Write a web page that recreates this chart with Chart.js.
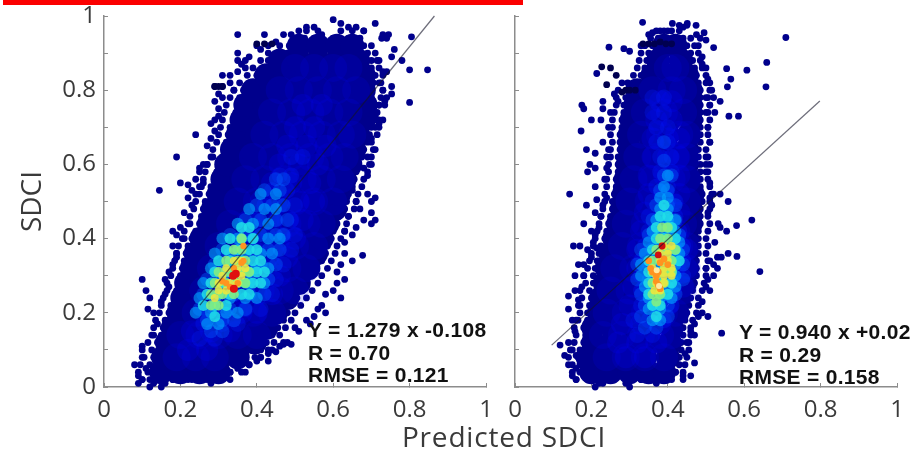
<!DOCTYPE html>
<html>
<head>
<meta charset="utf-8">
<script src="https://cdn.jsdelivr.net/npm/chart.js@4/dist/chart.umd.min.js"></script>
<style>
	html, body { margin: 0; padding: 0; background: #fff; width: 916px; height: 452px; overflow: hidden; }
	canvas { position: absolute; top: 0; filter: blur(0.6px); }
	#leftChart { left: 0; }
	#rightChart { left: 500px; }
	#redBar { position: absolute; left: 3px; top: 0; width: 520px; height: 5px; background: #fb0000; }
	#xTitle { position: absolute; left: 399px; top: 417px; width: 210px; text-align: center; font: 28px "Open Sans", sans-serif; letter-spacing: 0.8px; color: #3a3a3a; white-space: nowrap; }
	.stats { position: absolute; font: bold 21px "Liberation Sans", Arial, sans-serif; line-height: 22.5px; color: #111; white-space: nowrap; letter-spacing: 0.3px; }
</style>
</head>
<body>
<div id="redBar"></div>
<canvas id="leftChart" width="500" height="452"></canvas>
<canvas id="rightChart" width="416" height="452"></canvas>
<div id="xTitle">Predicted SDCI</div>
<div class="stats" style="left:308px; top:319px;">Y = 1.279 x -0.108<br>R = 0.70<br>RMSE = 0.121</div>
<div class="stats" style="left:739px; top:321px;">Y = 0.940 x +0.02<br>R = 0.29<br>RMSE = 0.158</div>
<script>
// tick labels
var yTickLabels = {0: "0", 2: "0.2", 4: "0.4", 6: "0.6", 8: "0.8", 10: "1"};

// fit lines
var leftFit = [[.251,.221],[.865,1]];
var rightFit = [[.096,.113],[.798,.771]];

// density layers are written as rows: first value is y, the others are x values in that row
var leftNavy = [
	[.04,.15,.20,.25,.30],[.08,.155,.205,.255,.305,.35],[.12,.165,.215,.265,.315,.365,.395],[.16,.18,.23,.28,.33,.38,.425],
	[.20,.195,.245,.295,.345,.395,.45],[.24,.205,.255,.305,.355,.405,.455,.48],[.28,.215,.265,.315,.365,.415,.465,.51],
	[.32,.23,.28,.33,.38,.43,.48,.51,.535],[.36,.24,.29,.34,.39,.44,.49,.525,.555],[.40,.255,.305,.355,.405,.455,.505,.54,.57],
	[.44,.275,.325,.375,.425,.475,.525,.555,.585],[.48,.285,.335,.385,.435,.485,.535,.57,.605],[.52,.30,.35,.40,.45,.50,.55,.58,.615],
	[.56,.31,.36,.41,.46,.51,.56,.595,.63],[.60,.32,.37,.42,.47,.52,.57,.61,.645],[.64,.335,.385,.435,.485,.535,.585,.62,.655],
	[.68,.35,.40,.45,.50,.55,.60,.635,.665],[.72,.36,.41,.46,.51,.56,.61,.645,.68],[.76,.37,.42,.47,.52,.57,.62,.65,.685],
	[.80,.39,.44,.49,.54,.59,.64,.68],[.84,.425,.475,.525,.575,.625,.68],[.88,.46,.51,.56,.61,.665],[.92,.51,.56,.61,.65]
];
// outer band of single dots
var leftBand = [
	[.02,.10,.12,.15,.18,.22,.26,.30,.33],[.04,.09,.115,.14,.33,.36],[.06,.095,.12,.145,.35,.38],[.08,.105,.13,.37,.395,.41],[.10,.10,.125,.385,.41,.43],
	[.12,.115,.14,.40,.425,.445],[.14,.125,.15,.41,.44,.46],[.16,.13,.155,.43,.455,.475],[.18,.135,.16,.44,.47,.49],[.20,.145,.17,.455,.48,.50],
	[.22,.15,.175,.47,.49,.515],[.24,.155,.185,.48,.505,.53],[.26,.165,.19,.49,.52,.545],[.28,.165,.195,.505,.53,.56],[.30,.175,.20,.52,.545,.57],
	[.32,.18,.205,.53,.555,.585],[.34,.185,.21,.54,.57,.595],[.36,.19,.215,.55,.58,.605],[.38,.195,.22,.56,.585,.61],[.40,.205,.23,.57,.595,.62],
	[.42,.21,.24,.58,.60,.63],[.44,.225,.25,.585,.61,.635],[.46,.225,.255,.59,.615,.64],[.48,.235,.26,.60,.63,.655],[.50,.24,.265,.61,.635,.66],
	[.52,.25,.275,.61,.64,.665],[.54,.255,.28,.62,.65,.675],[.56,.26,.29,.63,.655,.68],[.58,.265,.295,.635,.66,.69],[.60,.27,.30,.64,.665,.695],
	[.62,.285,.31,.65,.675,.70],[.64,.285,.315,.655,.68,.705],[.66,.295,.32,.66,.69,.70],[.68,.30,.325,.67,.695,.715],[.70,.305,.33,.68,.70,.72],
	[.72,.31,.34,.685,.71,.73],[.74,.315,.345,.69,.715],[.76,.32,.35,.695,.72,.735],[.78,.33,.355,.70,.725],[.80,.34,.365,.70,.73],
	[.82,.355,.38,.705,.725],[.84,.375,.40,.71,.73],[.86,.39,.415,.70,.72],[.88,.41,.43,.70,.715],[.90,.43,.455,.48,.69,.71],
	[.92,.46,.485,.51,.68,.70],[.94,.50,.525,.55,.60,.64,.67],[.96,.53,.56,.62,.65,.68]
];
var leftBlue1 = [
	[.08,.19,.24,.29],[.14,.2,.25,.30,.35,.40],[.20,.24,.29,.34,.39,.44],[.26,.26,.31,.36,.41,.46,.50],[.32,.28,.33,.38,.43,.48,.53],
	[.38,.30,.35,.40,.45,.50,.55],[.44,.33,.38,.43,.48,.53,.57],[.50,.35,.40,.45,.50,.55,.60],[.56,.37,.42,.47,.52,.57,.62],
	[.62,.39,.44,.49,.54,.59,.63],[.68,.42,.47,.52,.57,.62,.65],[.74,.44,.49,.54,.59,.64],[.80,.46,.51,.56,.61,.66],[.86,.50,.55,.60,.64]
];
var leftBlue2 = [
	[.10,.22,.27],[.15,.23,.28,.33],[.20,.26,.31,.36,.40],[.25,.30,.35,.40,.44],[.30,.31,.36,.41,.46],[.35,.33,.38,.43,.48],[.40,.36,.41,.46,.50],
	[.45,.38,.43,.48,.52],[.50,.41,.46,.51,.55],[.55,.44,.49,.54],[.60,.46,.51,.56],[.65,.48,.53,.58],[.70,.50,.55],[.76,.52,.57]
];
var leftBlue3 = [
	[.13,.25,.29],[.17,.26,.31,.35],[.21,.27,.32,.37,.41],[.25,.29,.34,.39,.44],[.29,.31,.36,.41,.45],[.33,.33,.38,.43,.47],[.37,.35,.40,.45,.49],
	[.41,.38,.43,.47,.50],[.45,.40,.45,.49],[.49,.42,.46,.50],[.53,.44,.48],[.57,.46,.49],[.62,.49,.52]
];
var leftBlue4 = [
	[.15,.28,.31],[.18,.27,.31,.34],[.21,.25,.29,.33,.37],[.25,.26,.30,.34,.38,.42],[.29,.27,.31,.35,.39,.43],[.33,.29,.33,.37,.41,.45],
	[.37,.31,.35,.39,.43,.46],[.41,.33,.37,.41,.45,.47],[.45,.37,.41,.45,.48],[.49,.40,.44,.47],[.53,.42,.46],[.56,.45,.47]
];
var leftSky = [
	[.17,.27,.30],[.20,.24,.28,.32,.35],[.24,.25,.29,.33,.37,.40],[.28,.26,.30,.34,.38,.42],[.32,.28,.32,.36,.40,.43],[.36,.29,.33,.37,.41,.44],
	[.40,.31,.35,.39,.43,.46],[.44,.35,.39,.43],[.48,.38,.42,.45],[.52,.41,.45]
];
var leftCyan = [
	[.19,.29],[.22,.26,.29,.32],[.25,.27,.30,.33,.36,.38],[.28,.28,.31,.34,.37,.39,.41],[.31,.29,.32,.35,.38,.40,.42],[.34,.30,.33,.36,.39,.41],
	[.37,.32,.35,.38,.40],[.40,.33,.36,.39],[.43,.36,.38]
];
var leftGreen = [
	[.22,.28,.30],[.25,.28,.31,.34],[.28,.29,.32,.35,.37],[.31,.30,.33,.36,.38],[.34,.32,.35,.37],[.37,.34,.36],[.40,.36]
];
var leftYellow = [
	[.24,.29],[.26,.30,.32],[.28,.30,.33,.35],[.30,.31,.34,.36],[.32,.32,.35,.37],[.34,.34,.36]
];
var leftOrange = [[.32,.28],[.33,.27],[.35,.28],[.34,.32],[.36,.335],[.365,.34],[.365,.38],[.31,.285]];
var leftRed = [[.338,.30],[.345,.305],[.34,.265]];
var leftDark = [[.29,.81],[.30,.81],[.31,.81],[.40,.925],[.42,.925],[.44,.925]];
var leftEdge = [
	[.08,.06],[.09,.03],[.09,.01],[.10,.02],[.11,.05],[.10,.08],[.10,.11],[.12,.0],[.13,.01],[.14,.02],[.15,.0],[.16,.01],[.18,.02],[.20,.03],[.21,.02],[.23,.02],
	[.25,.03],[.27,.02],[.28,.01],[.30,.02],[.31,.03],[.33,.04],[.35,.05],[.37,.04],[.38,.06],[.40,.07],[.41,.08],[.43,.09],[.44,.1],[.47,.12],[.48,.12],
	[.10,.29],[.11,.26],[.12,.24],[.115,.21],[.13,.2],[.14,.17],[.13,.14],[.15,.23],[.16,.25],[.17,.27],[.16,.29],[.17,.31],[.18,.33],[.19,.36],[.18,.38],[.19,.35],
	[.18,.42],[.19,.41],[.21,.40],[.2,.43],[.22,.44],[.21,.47],[.23,.49],[.22,.51],[.24,.52],[.23,.53],[.25,.54],[.24,.56],[.26,.55],[.25,.58],[.26,.6],[.27,.6],
	[.28,.62],[.25,.59],[.27,.65],[.28,.67],[.29,.69],[.28,.71],[.30,.73],[.29,.72],[.30,.75],[.29,.77],[.31,.78],[.30,.79],[.29,.81],[.31,.81],[.33,.82],[.34,.8],
	[.33,.84],[.35,.85],[.36,.87],[.37,.88],[.38,.89],[.40,.92],[.41,.91],[.43,.92],[.45,.93],[.47,.95],[.49,.95],[.51,.96],[.53,.97],[.55,.97],[.57,.95],[.6,.99],
	[.62,.98],[.64,.97],[.66,.97],[.68,.96],[.71,.98],[.73,.95],[.74,.94],
	[.35,.95],[.42,.95],[.35,.90],[.35,.88],[.37,.86],[.31,.84],[.24,.68],[.19,.62],[.145,.53],[.2,.55],[.22,.545],
	[.805,.944],[.847,.855],[.80,.855],[.80,.767],[.78,.88],[.76,.91],[.745,.95],[.727,.94],[.753,.89],[.74,.85],[.753,.81],[.753,.79],[.735,.77],[.74,.78],[.72,.71],[.71,.73],
	[.72,.88],[.73,.85],[.72,.82],[.73,.80],[.72,.76],[.71,.7],[.70,.75],[.72,.72],[.70,.67],[.71,.64],[.69,.62],[.70,.6],[.69,.57],[.68,.59],[.69,.52],[.71,.51],[.70,.5],
	[.70,.47],[.71,.45],[.70,.44],[.68,.45],[.65,.53],[.66,.5],[.67,.48],[.64,.46],[.66,.43],[.65,.41],[.63,.42],[.63,.39],[.677,.355],[.65,.34],[.63,.36],[.62,.33],[.61,.31],
	[.63,.29],[.61,.28],[.60,.26],[.62,.24],[.58,.25],[.57,.22],[.58,.2],[.56,.21],[.55,.19],[.54,.17],[.53,.18],[.50,.16],[.51,.15],[.49,.115],[.47,.115],[.46,.11],[.45,.095],[.43,.07]
];

var rightNavy = [
	[.04,.20,.25,.30,.35,.39],[.08,.19,.24,.29,.34,.40],[.12,.205,.255,.305,.355,.405],[.16,.205,.255,.305,.355,.41],[.20,.22,.27,.32,.37,.425],
	[.24,.225,.275,.325,.375,.43],[.28,.235,.285,.335,.385,.445],[.32,.24,.29,.34,.39,.45],[.36,.25,.30,.35,.40,.45],[.40,.26,.31,.36,.41,.45],
	[.44,.27,.32,.37,.42,.46],[.48,.28,.33,.38,.43,.46],[.52,.285,.335,.385,.435,.465],[.56,.29,.34,.39,.425,.455],[.60,.295,.345,.395,.425,.45],
	[.64,.30,.35,.40,.45],[.68,.30,.35,.40,.455],[.72,.305,.355,.405,.46],[.76,.315,.365,.415,.46],[.80,.32,.37,.42,.46],
	[.84,.36,.41,.45],[.88,.375,.435],[.92,.39,.42]
];
var rightBand = [
	[.02,.16,.19,.22,.25,.29,.33,.37,.41,.44],[.04,.15,.175,.42,.44],[.06,.15,.17,.43,.445],[.08,.14,.165,.43,.45],[.10,.145,.17,.435,.455],
	[.12,.155,.18,.435,.455],[.14,.16,.185,.44,.46],[.16,.155,.18,.44,.46],[.18,.165,.19,.445,.465],[.20,.17,.19,.45,.475],
	[.22,.17,.195,.455,.48],[.24,.175,.20,.46,.48],[.26,.17,.195,.465,.49],[.28,.185,.205,.47,.495],[.30,.18,.205,.475,.50],
	[.32,.19,.21,.475,.50],[.34,.195,.215,.475,.505],[.36,.20,.22,.48,.50],[.38,.205,.225,.48,.505],[.40,.21,.235,.48,.50],
	[.42,.215,.24,.48,.505],[.44,.22,.245,.485,.51],[.46,.225,.25,.485,.505],[.48,.23,.255,.485,.51],[.50,.235,.255,.49,.51],
	[.52,.235,.26,.49,.515],[.54,.24,.265,.485,.51],[.56,.24,.265,.485,.505],[.58,.245,.27,.485,.505],[.60,.245,.27,.485,.50],
	[.62,.25,.27,.48,.505],[.64,.25,.275,.48,.50],[.66,.255,.275,.485,.51],[.68,.25,.275,.485,.505],[.70,.255,.28,.485,.505],
	[.72,.255,.28,.485,.51],[.74,.26,.285,.485,.505],[.76,.265,.285,.485,.51],[.78,.265,.29,.485,.505],[.80,.27,.30,.485,.51],
	[.82,.295,.32,.48,.50],[.84,.31,.33,.475,.50],[.86,.32,.34,.47,.49],[.88,.325,.345,.465,.485],[.90,.33,.35,.46,.48],
	[.92,.34,.36,.45,.47],[.94,.355,.375,.395,.42,.44,.46],[.96,.37,.39,.41,.43]
];
var rightBlue1 = [
	[.08,.24,.29,.34,.39],[.14,.23,.28,.33,.38,.41],[.20,.24,.29,.34,.39,.42],[.26,.25,.30,.35,.40,.44],[.32,.26,.31,.36,.41,.45],[.38,.28,.33,.38,.43,.45],
	[.44,.29,.34,.39,.44],[.50,.30,.35,.40,.45],[.56,.31,.36,.41,.45],[.62,.32,.37,.42,.45],[.68,.33,.38,.43,.45],[.74,.34,.39,.44],[.80,.36,.41,.44],[.86,.40,.42]
];
var rightBlue2 = [
	[.08,.29,.34],[.12,.27,.32,.37],[.17,.28,.33,.38],[.22,.30,.35,.40],[.27,.31,.36,.41,.44],[.32,.32,.37,.42,.45],[.37,.32,.37,.42,.45],[.42,.33,.38,.43],
	[.47,.34,.39,.43],[.52,.35,.39,.43],[.57,.35,.39,.43],[.62,.36,.40,.43],[.67,.36,.40,.43],[.72,.37,.41],[.77,.38,.41]
];
var rightBlue3 = [
	[.14,.32,.36],[.18,.31,.35,.39],[.22,.33,.37,.41],[.26,.33,.37,.41],[.30,.33,.37,.41,.44],[.34,.33,.37,.41,.44],[.38,.34,.38,.42,.44],[.42,.35,.39,.43],
	[.46,.35,.39,.42],[.50,.36,.40,.42],[.54,.37,.40],[.58,.38,.41],[.62,.38,.41],[.66,.37,.40],[.70,.37,.40],[.74,.36,.39],[.78,.36,.39]
];
var rightBlue4 = [
	[.16,.34,.37],[.19,.33,.37,.40],[.22,.34,.37,.40],[.25,.33,.36,.39,.42],[.29,.32,.35,.38,.41,.44],[.33,.32,.35,.38,.41,.44],[.37,.33,.36,.39,.42,.44],
	[.41,.35,.38,.41,.43],[.45,.36,.39,.42],[.49,.37,.40,.42],[.53,.38,.40],[.57,.39,.41],[.61,.39],[.66,.39]
];
var rightSky = [
	[.18,.36,.38],[.21,.35,.38],[.24,.35,.38,.41],[.27,.34,.37,.40,.42],[.30,.33,.36,.39,.42],[.33,.33,.36,.39,.42],[.36,.34,.37,.40,.43],[.39,.35,.38,.41,.43],
	[.42,.36,.39,.42],[.45,.37,.40,.42],[.48,.38,.40],[.51,.38,.40],[.54,.39],[.57,.40]
];
var rightCyan = [
	[.19,.37],[.22,.36,.38],[.25,.35,.38,.40],[.28,.35,.38,.41],[.31,.35,.38,.41],[.34,.35,.38,.41,.43],[.37,.36,.39,.42],[.40,.37,.39,.42],[.43,.37,.40,.41],[.46,.38,.40],[.49,.39]
];
var rightGreen = [
	[.23,.37],[.25,.36,.38],[.28,.36,.39],[.31,.36,.39,.41],[.34,.36,.39,.41],[.37,.37,.40,.42],[.40,.38,.40],[.43,.385,.40]
];
var rightYellow = [
	[.26,.365,.38],[.28,.37,.39],[.30,.37,.39,.41],[.32,.36,.39,.41],[.34,.38,.40],[.36,.38,.40],[.38,.39,.41]
];
var rightOrange = [[.355,.32],[.36,.31],[.38,.335],[.375,.31],[.37,.285],[.375,.275],[.38,.265],[.40,.33],[.35,.34],[.385,.38],[.39,.345],[.37,.30]];
var rightRed = [[.375,.356],[.385,.38]];
var rightPale = [[.377,.272],[.371,.315]];
var rightDark = [[.335,.925],[.35,.925],[.365,.925],[.38,.93],[.395,.925],[.41,.925],[.30,.80],[.28,.795],[.29,.80],[.315,.80],[.25,.86],[.265,.84],[.24,.815],[.227,.863]];
var rightEdge = [
	[.118,.113],[.14,.12],[.13,.085],[.15,.10],[.16,.085],[.14,.06],[.16,.05],[.15,.03],[.16,.02],[.17,.04],[.18,.03],[.20,.02],[.21,.0],[.22,.01],[.23,.01],[.24,.03],[.26,.02],
	[.29,.01],[.30,.0],[.305,.03],[.33,.02],[.35,.03],[.37,.01],[.38,.03],[.40,.03],[.42,.04],[.44,.03],[.46,.03],[.47,.065],[.445,.09],[.45,.12],[.46,.15],[.47,.17],
	[.47,.14],[.48,.19],[.49,.2],[.505,.19],[.541,.145],[.49,.23],[.50,.27],[.51,.26],[.505,.29],[.52,.3],[.50,.32],[.52,.33],[.53,.32],[.51,.34],[.54,.35],[.53,.35],
	[.581,.352],[.558,.36],[.641,.311],[.523,.39],[.554,.42],[.58,.435],[.62,.45],[.532,.44],[.537,.43],[.505,.47],[.52,.52],[.537,.52],[.558,.5],[.515,.49],[.51,.51],
	[.51,.55],[.50,.58],[.51,.6],[.50,.62],[.523,.74],[.537,.77],[.56,.73],[.585,.73],[.565,.83],[.515,.80],[.51,.82],[.52,.78],[.51,.76],[.50,.74],[.505,.7],[.51,.66],
	[.50,.78],[.505,.83],[.50,.86],[.49,.89],[.49,.87],[.48,.92],[.50,.935],[.485,.94],[.475,.95],[.45,.975],[.44,.97],[.43,.975],[.40,.96],[.38,.96],[.36,.955],[.35,.95],[.33,.92],
	[.709,.942],[.659,.875],[.607,.854],[.554,.858],[.556,.809],[.657,.809],[.334,.983],[.412,.98],[.451,.98],[.474,.975],[.495,.955],[.52,.915],[.246,.916],[.285,.912],[.30,.905],
	[.214,.845],[.28,.82],[.31,.795],[.175,.76],[.18,.75],[.23,.77],[.23,.75],[.20,.72],[.225,.72],[.173,.69],[.187,.64],[.21,.63],[.23,.66],[.196,.6],[.21,.59],[.19,.58],
	[.24,.62],[.24,.59],[.143,.52],[.21,.54],[.214,.505],[.187,.49],[.24,.51],[.21,.47],[.18,.44],[.20,.42],[.153,.38],[.17,.38],[.19,.37],[.214,.375],[.20,.35],[.166,.33],
	[.22,.34],[.157,.30],[.18,.30],[.157,.26],[.14,.245],[.14,.21],[.166,.235],[.166,.22],[.15,.18],[.157,.15],[.16,.18],[.175,.27],[.18,.33],[.205,.39],[.21,.41],[.22,.43],
	[.225,.46],[.23,.49],[.235,.56],[.245,.64],[.245,.70],[.25,.74],[.26,.79],[.27,.77]
];

// rows -> [x, y] pairs
function rowsToPoints(rows){
	var points = [];
	rows.forEach(function(row){
		for(var i = 1; i < row.length; i++){
			points.push([row[i], row[0]]);
		}
	});
	return points;
}

function layer(data, color, radius){
	return {
		data: data,
		backgroundColor: color,
		borderWidth: 0,
		pointRadius: radius,
		pointHoverRadius: radius,
		clip: false
	};
}

function fitLine(data){
	return {
		type: 'line',
		data: data,
		showLine: true,
		borderColor: 'rgba(20,20,40,0.62)',
		borderWidth: 1.2,
		pointRadius: 0,
		clip: false
	};
}

// no extra room for the end labels, the plot box has to stay where it is
function clearPadding(scale){
	scale.paddingTop = 0;
	scale.paddingBottom = 0;
	scale.paddingLeft = 0;
	scale.paddingRight = 0;
}

// first dataset is painted last, so the list goes from top to bottom
function makeChart(id, layers, showYLabels, axisLeft, paddingRight){
	new Chart(document.getElementById(id), {
		type: 'scatter',
		data: { datasets: layers },
		options: {
			responsive: false,
			animation: false,
			layout: { padding: { left: 0, top: 16, right: paddingRight, bottom: 0 } },
			plugins: { legend: { display: false }, tooltip: { enabled: false } },
			scales: {
				x: {
					min: 0, max: 1,
					border: { color: '#8c8c8c', width: 1.5 },
					grid: { drawOnChartArea: false, tickLength: -4, tickColor: '#8c8c8c' },
					ticks: { stepSize: 0.2, maxRotation: 0, autoSkip: false, padding: 13, color: '#3a3a3a', font: { family: '"Open Sans", sans-serif', size: 24 },
						callback: function(value){ return yTickLabels[Math.round(value * 10)]; } },
					afterFit: function(scale){ scale.height = 65; clearPadding(scale); }
				},
				y: {
					min: 0, max: 1,
					border: { color: '#8c8c8c', width: 1.5 },
					grid: { drawOnChartArea: false, tickLength: -4, tickColor: '#8c8c8c' },
					title: { display: showYLabels, text: 'SDCI', color: '#3a3a3a', font: { family: '"Open Sans", sans-serif', size: 28 }, padding: { top: 16, bottom: 0 } },
					ticks: { stepSize: 0.1, autoSkip: false, padding: 12, color: '#3a3a3a', font: { family: '"Open Sans", sans-serif', size: 24 },
						callback: function(value){ return showYLabels ? (yTickLabels[Math.round(value * 10)] || '') : ''; } },
					afterFit: function(scale){ scale.width = axisLeft; clearPadding(scale); }
				}
			}
		}
	});
}

makeChart('leftChart', [
	fitLine(leftFit),
	layer(leftRed, '#e01010', 4),
	layer(leftOrange, '#ff9420', 3.2),
	layer(rowsToPoints(leftYellow), 'rgba(244,232,56,0.85)', 4),
	layer(rowsToPoints(leftGreen), 'rgba(136,240,124,0.85)', 5),
	layer(rowsToPoints(leftCyan), 'rgba(32,224,232,0.85)', 5.5),
	layer(rowsToPoints(leftSky), 'rgba(0,170,255,0.6)', 6),
	layer(rowsToPoints(leftBlue4), 'rgba(0,95,255,0.4)', 7),
	layer(rowsToPoints(leftBlue3), 'rgba(0,30,255,0.28)', 8),
	layer(rowsToPoints(leftBlue2), 'rgba(0,0,255,0.2)', 11),
	layer(rowsToPoints(leftBlue1), 'rgba(0,0,255,0.14)', 14),
	layer(leftDark, '#000050', 3.4),
	layer(rowsToPoints(leftNavy), '#00008c', 12),
	layer(rowsToPoints(leftBand), '#00008c', 3.4),
	layer(leftEdge, '#00008c', 3.4)
], true, 104, 14);

makeChart('rightChart', [
	fitLine(rightFit),
	layer(rightRed, '#d01010', 3.4),
	layer(rightPale, '#ffe8a0', 3),
	layer(rightOrange, '#ff9420', 3.4),
	layer(rowsToPoints(rightYellow), 'rgba(244,232,56,0.85)', 4),
	layer(rowsToPoints(rightGreen), 'rgba(136,240,124,0.85)', 5),
	layer(rowsToPoints(rightCyan), 'rgba(32,224,232,0.85)', 5.5),
	layer(rowsToPoints(rightSky), 'rgba(0,170,255,0.6)', 6),
	layer(rowsToPoints(rightBlue4), 'rgba(0,95,255,0.4)', 7),
	layer(rowsToPoints(rightBlue3), 'rgba(0,30,255,0.28)', 8),
	layer(rowsToPoints(rightBlue2), 'rgba(0,0,255,0.2)', 11),
	layer(rowsToPoints(rightBlue1), 'rgba(0,0,255,0.14)', 14),
	layer(rightDark, '#000050', 3.4),
	layer(rowsToPoints(rightNavy), '#00008c', 12),
	layer(rowsToPoints(rightBand), '#00008c', 3.4),
	layer(rightEdge, '#00008c', 3.4)
], false, 15, 19);
</script>
</body>
</html>
